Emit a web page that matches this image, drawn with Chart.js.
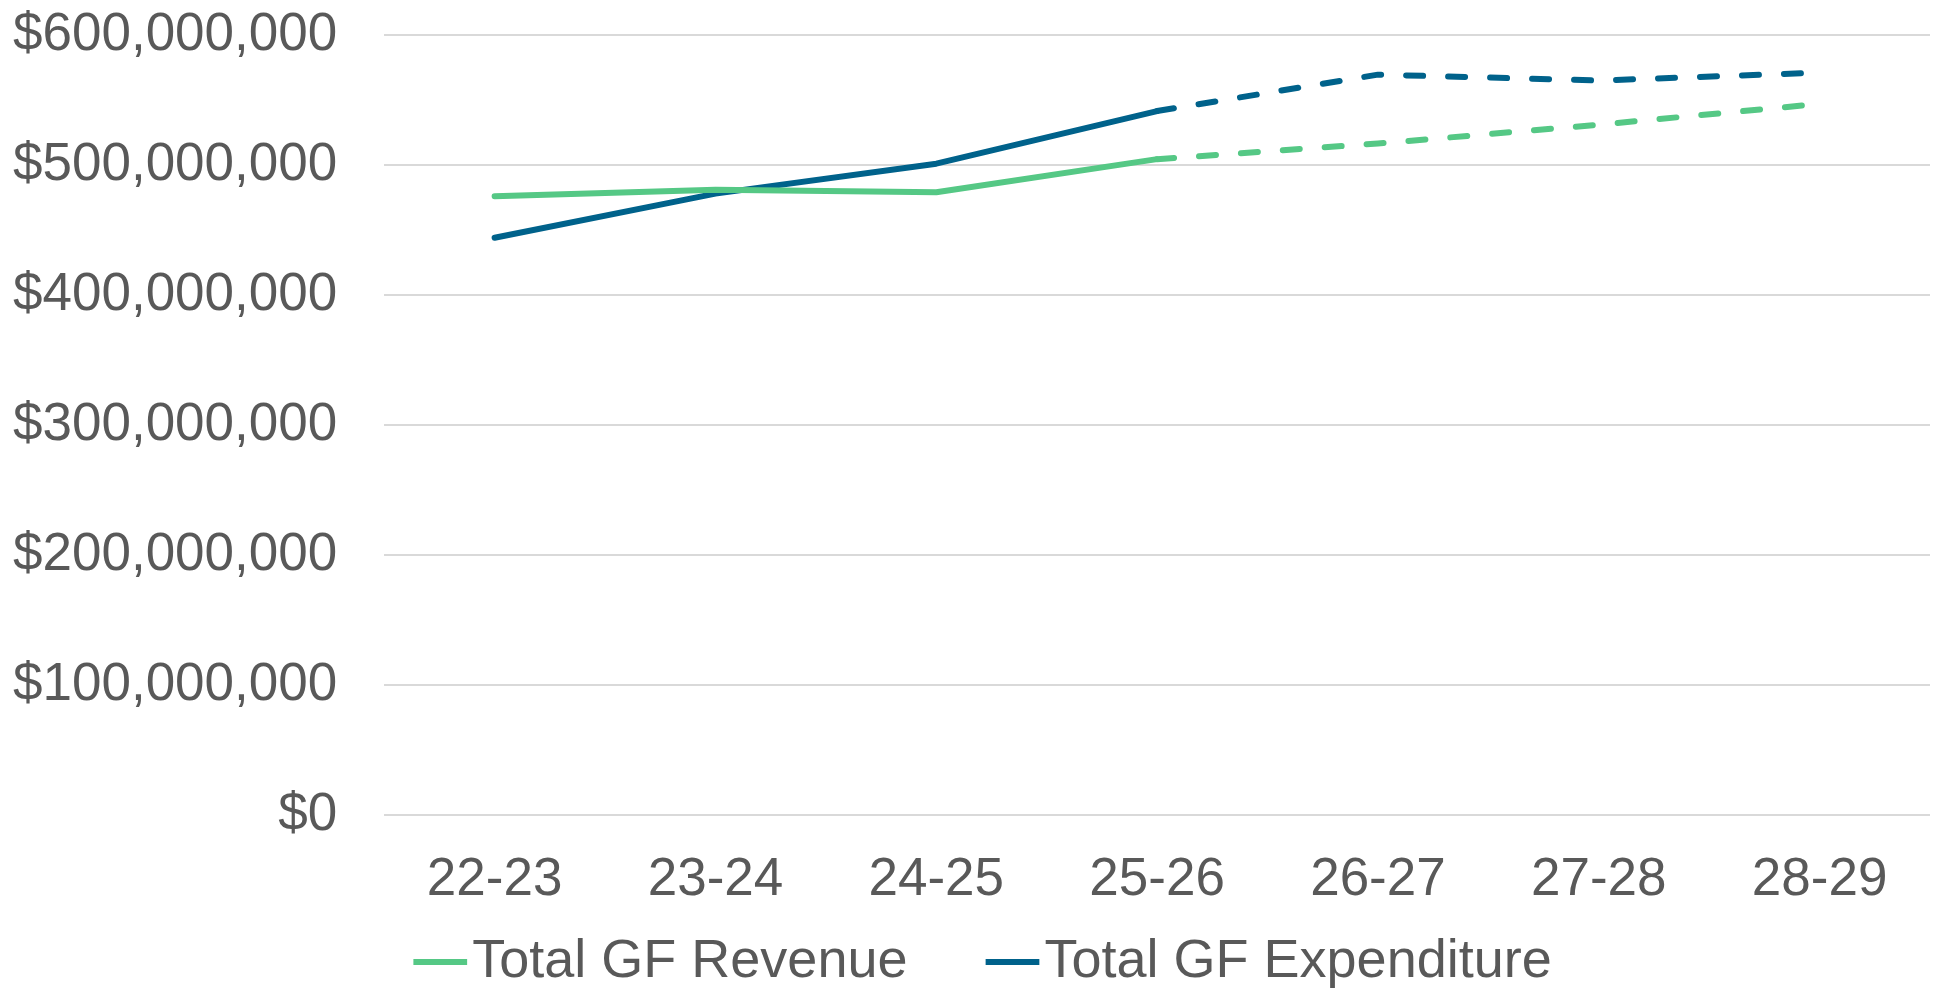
<!DOCTYPE html>
<html>
<head>
<meta charset="utf-8">
<script src="https://cdn.jsdelivr.net/npm/chart.js@4/dist/chart.umd.min.js"></script>
<style>
  html, body { margin: 0; padding: 0; background: #ffffff; }
  #wrap { width: 1933px; height: 993px; position: relative; }
</style>
</head>
<body>
<div id="wrap"><canvas id="chart"></canvas></div>
<script>
// ── DATA ──
const years = ['22-23', '23-24', '24-25', '25-26', '26-27', '27-28', '28-29'];
const revenue = [476000000, 481000000, 479000000, 504500000, 516500000, 531000000, 547000000];
const expenditure = [444000000, 478000000, 501000000, 541500000, 569500000, 565000000, 571000000];
const yTicks = [0, 100000000, 200000000, 300000000, 400000000, 500000000, 600000000];
const firstProjected = 3; // 25-26 onwards is drawn dashed

// ── STYLE ──
const FONT = "'Liberation Sans', Arial, sans-serif";
const TEXT = '#595959';
const GRID = '#d9d9d9';
const GREEN = '#55c885';
const BLUE = '#00628b';
const LEGEND_GAP = '      ';
const LEGEND_SHIFT = 22;
const X_AXIS_HEIGHT = 110;

Chart.defaults.font.family = FONT;
Chart.defaults.color = TEXT;

const lineStyle = color => ({
  borderColor: color,
  backgroundColor: color,
  borderWidth: 6,
  borderCapStyle: 'round',
  borderJoinStyle: 'round',
  pointRadius: 0,
  pointHoverRadius: 0,
  tension: 0,
  segment: {
    borderDash: ctx => ctx.p0DataIndex >= firstProjected ? [17, 25] : undefined
  }
});

// nudge the legend row sideways after layout
const legendNudge = {
  id: 'legendNudge',
  afterUpdate(chart) {
    if (!chart.legend) return;
    chart.legend.left += LEGEND_SHIFT;
    chart.legend.right += LEGEND_SHIFT;
  }
};

new Chart(document.getElementById('chart'), {
  type: 'line',
  data: {
    labels: years,
    datasets: [
      { label: 'Total GF Revenue', data: revenue, ...lineStyle(GREEN) },
      { label: 'Total GF Expenditure', data: expenditure, ...lineStyle(BLUE) }
    ]
  },
  options: {
    animation: false,
    responsive: true,
    maintainAspectRatio: false,
    layout: { padding: { top: 35, left: 13, right: 3, bottom: -6 } },
    plugins: {
      tooltip: { enabled: false },
      legend: {
        position: 'bottom',
        labels: {
          font: { size: 54 },
          color: TEXT,
          usePointStyle: true,
          pointStyle: 'line',
          boxWidth: 10,
          boxHeight: 38,
          padding: 10,
          generateLabels(chart) {
            const items = Chart.defaults.plugins.legend.labels.generateLabels(chart);
            items[0].text += LEGEND_GAP;
            return items;
          }
        }
      }
    },
    scales: {
      x: {
        offset: true,
        grid: { display: false, drawTicks: false },
        border: { display: false },
        ticks: { font: { size: 53 }, color: TEXT, padding: 34, maxRotation: 0 },
        afterFit: axis => { axis.height = X_AXIS_HEIGHT; }
      },
      y: {
        min: 0,
        max: 600000000,
        afterBuildTicks: axis => { axis.ticks = yTicks.map(v => ({ value: v })); },
        afterFit: axis => {
          axis.width -= axis.options.ticks.padding;
          axis.paddingTop = 0;
          axis.paddingBottom = 0;
        },
        grid: { color: GRID, lineWidth: 2, drawTicks: false },
        border: { display: false },
        ticks: {
          font: { size: 53 },
          color: TEXT,
          padding: 47,
          callback: v => '$' + Number(v).toLocaleString('en-US')
        }
      }
    }
  },
  plugins: [legendNudge]
});
</script>
</body>
</html>
